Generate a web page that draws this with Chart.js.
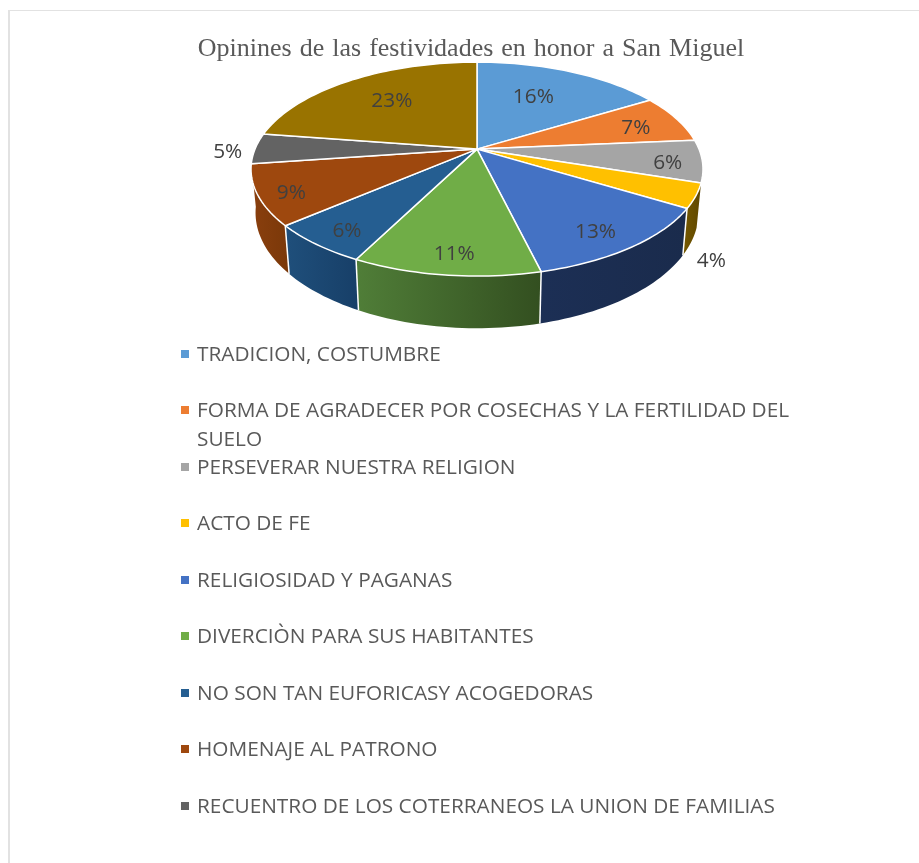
<!DOCTYPE html>
<html lang="es">
<head>
  <meta charset="UTF-8" />
  <title>Opinines de las festividades en honor a San Miguel</title>
  <style>
    body {
      margin: 0;
      background-color: #fff;
      font-family: 'Open Sans', sans-serif;
    }
    #page {
      position: relative;
      width: 919px;
      height: 863px;
      overflow: hidden;
    }
    #frame {
      position: absolute;
      left: 8px;
      top: 10px;
      right: 0;
      bottom: 0;
      border-left: 2px solid #e2e2e2;
      border-top: 1px solid #e2e2e2;
    }
    canvas {
      position: absolute;
      left: 0;
      top: 0;
    }
    #legend {
      position: absolute;
      left: 197px;
      top: 338.75px;
      width: 610px;
      margin: 0;
      padding: 0;
      list-style: none;
      color: #595959;
      font-size: 20.8px;
      line-height: 28.5px;
    }
    #legend li {
      position: relative;
      height: 56.5px;
    }
    #legend i {
      position: absolute;
      left: -16px;
      top: 11px;
      width: 8px;
      height: 8px;
    }
  </style>
</head>
<body>
  <div id="page">
    <div id="frame"></div>
    <canvas id="pieChart" width="919" height="863"></canvas>
    <ul id="legend"></ul>
  </div>

  <script src="https://cdn.jsdelivr.net/npm/chart.js"></script>
  <script>
    const titleText = 'Opinines de las festividades en honor a San Miguel';
    // last slice has no name in the picture, its legend row is cut off
    const categories = [
      'TRADICION, COSTUMBRE',
      'FORMA DE AGRADECER POR COSECHAS Y LA FERTILIDAD DEL SUELO',
      'PERSEVERAR NUESTRA RELIGION',
      'ACTO DE FE',
      'RELIGIOSIDAD Y PAGANAS',
      'DIVERCIÒN PARA SUS HABITANTES',
      'NO SON TAN EUFORICASY ACOGEDORAS',
      'HOMENAJE AL PATRONO',
      'RECUENTRO DE LOS COTERRANEOS LA UNION DE FAMILIAS',
      ''
    ];
    // estimated from the slice edges, the labels show them rounded
    const percents = [16.3, 7.3, 6.4, 3.7, 12.5, 11.3, 6.2, 9.1, 4.6, 22.6];
    const sliceColors = ['#5B9BD5', '#ED7D31', '#A5A5A5', '#FFC000', '#4472C4', '#70AD47', '#255E91', '#9E480E', '#636363', '#997300'];
    const wallColors = [
      ['#3f6f9c', '#3f6f9c'], ['#a85820', '#a85820'], ['#707070', '#707070'],
      ['#755800', '#5f4700'], ['#1c2f55', '#1a2b4c'], ['#507e38', '#334f20'],
      ['#1f4f7b', '#173f68'], ['#8a3f0e', '#7a3809'], ['#444', '#444'], ['#6b5000', '#6b5000']
    ];
    // label shift in px from the slice's point at 0.7 of the radius
    const labelShift = [
      [-12, 5], [17, 1], [34, 6], [85, 80], [16, 18],
      [-2, 22], [-23, 19], [-36, 13], [-94, 3], [7, 2]
    ];

    // 3D look: slices are mapped on a tilted disc, the near side looks bigger
    const tilt = 0.465;
    const perspective = 0.187;
    const shiftX = 6;
    const bottomScaleX = 0.98;
    const bottomScaleY = 1.08;
    const bottomDrop = 42;

    function project(arc, angle, r) {
      const u = r * Math.cos(angle);
      const v = r * Math.sin(angle);
      const d = 1 - perspective * v;
      return {
        x: arc.x + shiftX + arc.outerRadius * u / d,
        y: arc.y + arc.outerRadius * tilt * v / d
      };
    }

    function bottomOf(arc, p) {
      return {
        x: arc.x + shiftX + (p.x - arc.x - shiftX) * bottomScaleX,
        y: arc.y + (p.y - arc.y) * bottomScaleY + bottomDrop
      };
    }

    function arcPoints(arc) {
      const steps = Math.max(4, Math.ceil((arc.endAngle - arc.startAngle) * 40));
      const pts = [];
      for (let i = 0; i <= steps; i++) {
        pts.push(project(arc, arc.startAngle + (arc.endAngle - arc.startAngle) * i / steps, 1));
      }
      return pts;
    }

    function isNear(arc) {
      return Math.sin((arc.startAngle + arc.endAngle) / 2) > perspective;
    }

    function drawWall(ctx, arc, i, prevNear) {
      const top = arcPoints(arc);
      const bottom = top.map(p => bottomOf(arc, p));
      const xs = top.concat(bottom).map(p => p.x);
      const grad = ctx.createLinearGradient(Math.min(...xs), 0, Math.max(...xs), 0);
      grad.addColorStop(0, wallColors[i][0]);
      grad.addColorStop(1, wallColors[i][1]);
      ctx.beginPath();
      top.forEach((p, k) => k ? ctx.lineTo(p.x, p.y) : ctx.moveTo(p.x, p.y));
      bottom.reverse().forEach(p => ctx.lineTo(p.x, p.y));
      ctx.closePath();
      ctx.fillStyle = grad;
      ctx.fill();
      if (prevNear) {
        const a = top[0];
        const b = bottomOf(arc, a);
        ctx.beginPath();
        ctx.moveTo(a.x, a.y);
        ctx.lineTo(b.x, b.y);
        ctx.strokeStyle = '#fff';
        ctx.lineWidth = 1.5;
        ctx.stroke();
      }
    }

    function drawTop(ctx, arc) {
      const pts = arcPoints(arc);
      ctx.beginPath();
      ctx.moveTo(arc.x + shiftX, arc.y);
      pts.forEach(p => ctx.lineTo(p.x, p.y));
      ctx.closePath();
      ctx.fillStyle = arc.options.backgroundColor;
      ctx.fill();
      ctx.strokeStyle = arc.options.borderColor;
      ctx.lineWidth = arc.options.borderWidth;
      ctx.lineJoin = 'round';
      ctx.stroke();
    }

    const pie3d = {
      id: 'pie3d',
      beforeDraw(chart) {
        // the title has wide gaps between words
        chart.ctx.wordSpacing = '1.5px';
      },
      beforeDatasetDraw(chart, args) {
        const ctx = chart.ctx;
        const arcs = args.meta.data;
        ctx.save();
        arcs.forEach((arc, i) => {
          if (isNear(arc)) {
            drawWall(ctx, arc, i, i > 0 && isNear(arcs[i - 1]));
          }
        });
        arcs.forEach(arc => drawTop(ctx, arc));
        ctx.font = "20.8px 'Open Sans'";
        ctx.wordSpacing = '0px';
        ctx.fillStyle = '#404040';
        ctx.textAlign = 'center';
        ctx.textBaseline = 'middle';
        arcs.forEach((arc, i) => {
          const p = project(arc, (arc.startAngle + arc.endAngle) / 2, 0.7);
          ctx.fillText(Math.round(percents[i]) + '%', p.x + labelShift[i][0], p.y + labelShift[i][1]);
        });
        ctx.restore();
        return false;
      }
    };

    new Chart(document.getElementById('pieChart'), {
      type: 'pie',
      data: {
        labels: categories,
        datasets: [{
          data: percents,
          backgroundColor: sliceColors,
          borderColor: '#fff',
          borderWidth: 1.5
        }]
      },
      options: {
        responsive: false,
        animation: false,
        radius: 222,
        layout: { padding: { left: 23, top: 34, bottom: 863 - 149 * 2 + 65 } },
        plugins: {
          legend: { display: false },
          tooltip: { enabled: false },
          title: {
            display: true,
            text: titleText,
            color: '#595959',
            padding: 0,
            font: { family: "'Liberation Serif'", size: 26, weight: 'normal', lineHeight: 1.2 }
          }
        }
      },
      plugins: [pie3d]
    });

    const legend = document.getElementById('legend');
    categories.filter(name => name).forEach((name, i) => {
      const li = document.createElement('li');
      const mark = document.createElement('i');
      mark.style.backgroundColor = sliceColors[i];
      li.appendChild(mark);
      li.appendChild(document.createTextNode(name));
      legend.appendChild(li);
    });
  </script>
</body>
</html>
